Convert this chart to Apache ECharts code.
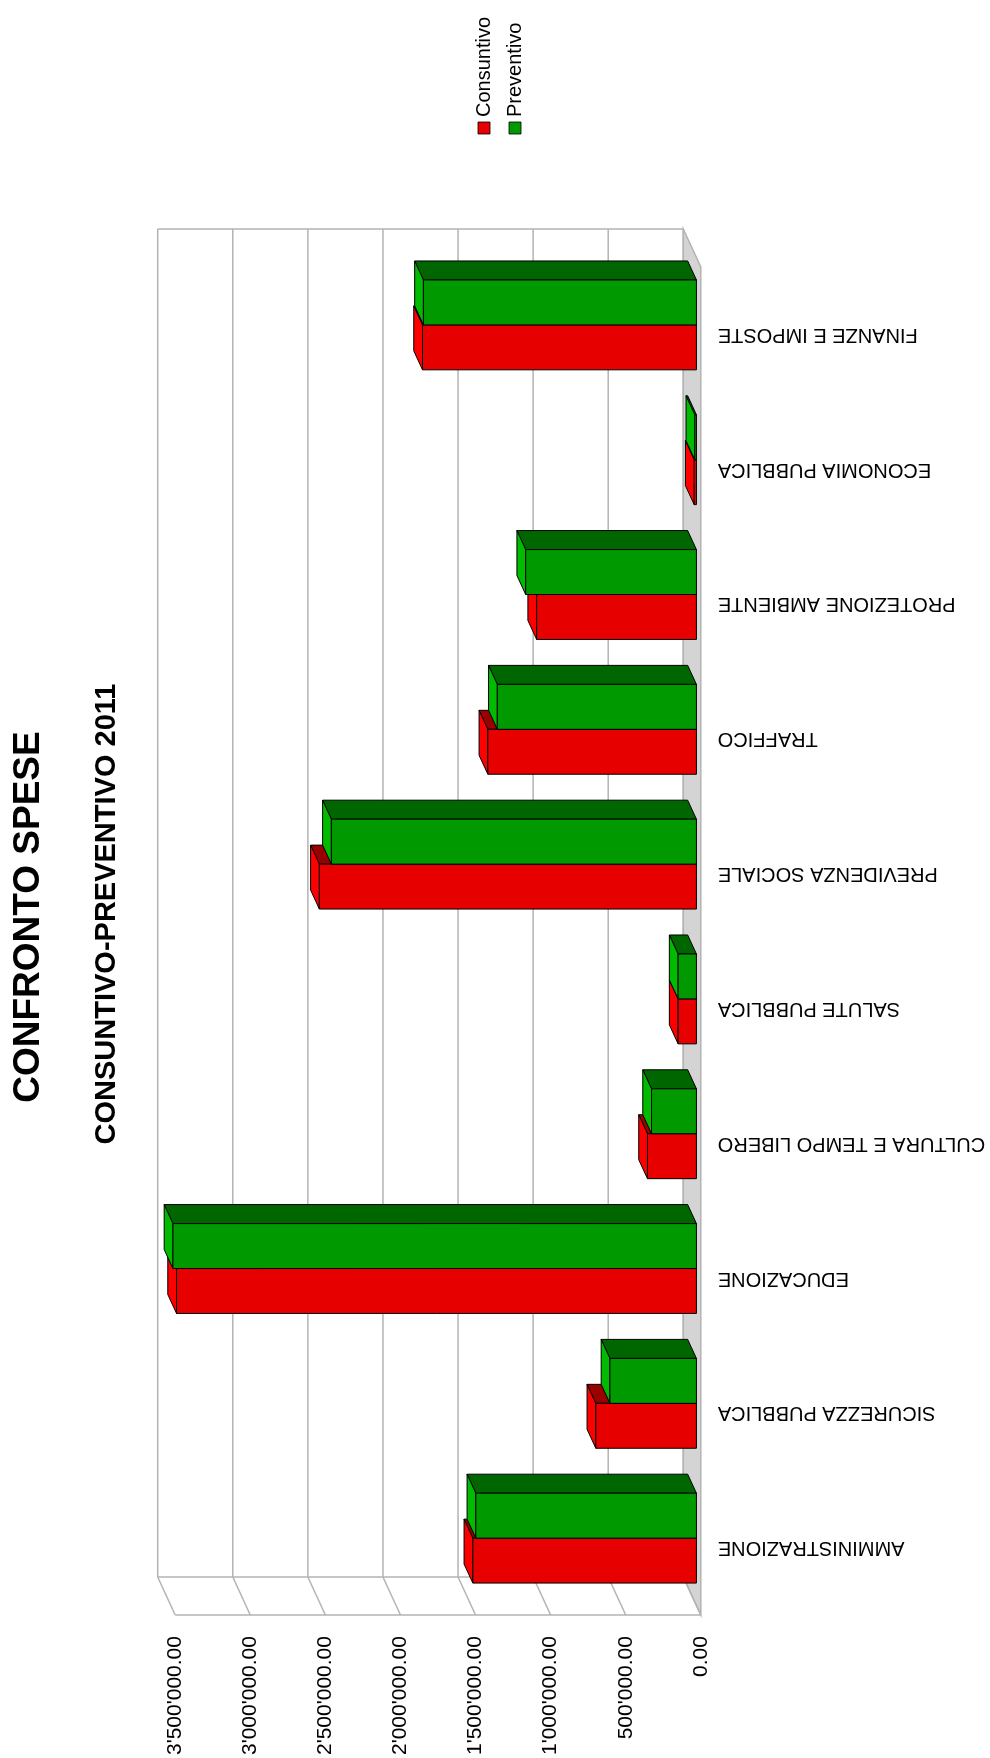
<!DOCTYPE html>
<html>
<head>
<meta charset="utf-8">
<script src="https://cdn.jsdelivr.net/npm/echarts@6/dist/echarts.min.js"></script>
<style>
html,body{margin:0;padding:0;background:#ffffff;}
#c{width:990px;height:1758px;}
</style>
</head>
<body>
<div id="c"></div>
<script>
// ---- data ----
const categories = ['AMMINISTRAZIONE','SICUREZZA PUBBLICA','EDUCAZIONE','CULTURA E TEMPO LIBERO','SALUTE PUBBLICA','PREVIDENZA SOCIALE','TRAFFICO','PROTEZIONE AMBIENTE','ECONOMIA PUBBLICA','FINANZE E IMPOSTE'];
const consuntivo = [1489000, 670000, 3462000, 326000, 122000, 2511000, 1389000, 1064000, 15000, 1824000];
const preventivo = [1469000, 576000, 3486000, 299000, 122000, 2431000, 1326000, 1137000, 11000, 1818000];
const valueTicks = [0, 500000, 1000000, 1500000, 2000000, 2500000, 3000000, 3500000];
const seriesNames = ['Consuntivo', 'Preventivo'];
const titleText = 'CONFRONTO SPESE';
const subtitleText = 'CONSUNTIVO-PREVENTIVO 2011';

// ---- style ----
const FONT = '"Liberation Sans", Arial, Helvetica, sans-serif';
const DX = 17.5, DY = 38;           // oblique depth of the floor
const GRID_COLOR = '#b3b3b3';
const COLORS = {
  Consuntivo: {front: '#e60000', side: '#ff0000', top: '#990000'},
  Preventivo: {front: '#009900', side: '#00bb00', top: '#006600'}
};

function fmt(v) {
  const s = Number(v).toFixed(2);
  const parts = s.split('.');
  return parts[0].replace(/\B(?=(\d{3})+(?!\d))/g, "'") + '.' + parts[1];
}

const vMin = valueTicks[0], vMax = valueTicks[valueTicks.length - 1];

function renderFrame(params, api) {
  const cs = params.coordSys;
  const v = api.value(0);
  const xf = api.coord([v, 0])[0];
  const xb = xf - DX;
  const topB = cs.y - DY, botB = cs.y + cs.height - DY;
  const topF = cs.y, botF = cs.y + cs.height;
  const ls = {stroke: GRID_COLOR, lineWidth: 1.5};
  const children = [];
  if (v === vMin) {
    children.push({type: 'polygon', shape: {points: [[xb, topB], [xf, topF], [xf, botF], [xb, botB]]},
      style: {fill: '#d4d4d4', stroke: GRID_COLOR, lineWidth: 1.5}});
  }
  children.push({type: 'line', shape: {x1: xb, y1: topB, x2: xb, y2: botB}, style: ls});
  children.push({type: 'line', shape: {x1: xb, y1: botB, x2: xf, y2: botF}, style: ls});
  if (v === vMax) {
    const x0f = api.coord([vMin, 0])[0];
    children.push({type: 'line', shape: {x1: xb, y1: topB, x2: x0f - DX, y2: topB}, style: ls});
    children.push({type: 'line', shape: {x1: xb, y1: botB, x2: x0f - DX, y2: botB}, style: ls});
    children.push({type: 'line', shape: {x1: xf, y1: botF, x2: x0f, y2: botF}, style: ls});
  }
  return {type: 'group', children: children};
}

function makeBarRenderer(name, upper) {
  const col = COLORS[name];
  return function (params, api) {
    const val = api.value(0), cat = api.value(1);
    const p0 = api.coord([0, cat]);
    const pv = api.coord([val, cat]);
    const band = api.size([0, 1])[1];
    const h = band / 3;
    const ox = -0.25 * DX, oy = -0.25 * DY;
    const bdx = -0.5 * DX, bdy = -0.5 * DY;
    const x0 = p0[0] + ox, xv = pv[0] + ox;
    const yc = p0[1] + oy;
    const yt = upper ? yc - h : yc;
    const yb = upper ? yc : yc + h;
    const st = {stroke: '#000', lineWidth: 1, lineJoin: 'round'};
    return {
      type: 'group',
      children: [
        {type: 'polygon', shape: {points: [[xv, yt], [x0, yt], [x0 + bdx, yt + bdy], [xv + bdx, yt + bdy]]},
          style: Object.assign({fill: col.top}, st)},
        {type: 'polygon', shape: {points: [[xv, yt], [xv, yb], [xv + bdx, yb + bdy], [xv + bdx, yt + bdy]]},
          style: Object.assign({fill: col.side}, st)},
        {type: 'rect', shape: {x: xv, y: yt, width: x0 - xv, height: yb - yt},
          style: Object.assign({fill: col.front}, st)}
      ]
    };
  };
}

const chart = echarts.init(document.getElementById('c'), null, {renderer: 'canvas'});

const option = {
  animation: false,
  backgroundColor: '#ffffff',
  textStyle: {fontFamily: FONT},
  grid: {left: 175.2, right: 289.2, top: 267, bottom: 142, containLabel: false},
  xAxis: {
    type: 'value', inverse: true, min: vMin, max: vMax, interval: 500000,
    position: 'bottom',
    axisLine: {show: false}, axisTick: {show: false}, splitLine: {show: false},
    axisLabel: {rotate: 90, margin: 21, fontSize: 21, color: '#000', fontFamily: FONT,
      formatter: function (v) { return fmt(v); }}
  },
  yAxis: {
    type: 'category', position: 'right', data: categories,
    axisLine: {show: false}, axisTick: {show: false}, splitLine: {show: false},
    axisLabel: {rotate: 180, margin: 17, fontSize: 20, color: '#000', fontFamily: FONT, interval: 0}
  },
  series: [
    {type: 'custom', name: 'frame', z: 1, silent: true, renderItem: renderFrame,
      encode: {x: 0}, data: valueTicks.map(v => [v, 0])},
    {type: 'custom', name: seriesNames[0], z: 2, renderItem: makeBarRenderer(seriesNames[0], false),
      encode: {x: 0, y: 1}, data: consuntivo.map((v, i) => [v, i])},
    {type: 'custom', name: seriesNames[1], z: 3, renderItem: makeBarRenderer(seriesNames[1], true),
      encode: {x: 0, y: 1}, data: preventivo.map((v, i) => [v, i])}
  ],
  graphic: [
    {type: 'text', x: 28.3, y: 917, rotation: Math.PI / 2,
      style: {text: titleText, fill: '#000', font: 'bold 37px ' + FONT, align: 'center', verticalAlign: 'middle', textAlign: 'center', textVerticalAlign: 'middle'}},
    {type: 'text', x: 106.7, y: 914, rotation: Math.PI / 2,
      style: {text: subtitleText, fill: '#000', font: 'bold 29px ' + FONT, align: 'center', verticalAlign: 'middle', textAlign: 'center', textVerticalAlign: 'middle'}},
    {type: 'rect', shape: {x: 478, y: 122, width: 12, height: 12},
      style: {fill: COLORS.Consuntivo.front, stroke: '#000', lineWidth: 0.8}},
    {type: 'text', x: 484.5, y: 117, rotation: Math.PI / 2,
      style: {text: seriesNames[0], fill: '#000', font: '20px ' + FONT, align: 'left', verticalAlign: 'middle', textAlign: 'left', textVerticalAlign: 'middle'}},
    {type: 'rect', shape: {x: 509, y: 122, width: 12, height: 12},
      style: {fill: COLORS.Preventivo.front, stroke: '#000', lineWidth: 0.8}},
    {type: 'text', x: 515.5, y: 117, rotation: Math.PI / 2,
      style: {text: seriesNames[1], fill: '#000', font: '20px ' + FONT, align: 'left', verticalAlign: 'middle', textAlign: 'left', textVerticalAlign: 'middle'}}
  ]
};
chart.setOption(option);
</script>
</body>
</html>
